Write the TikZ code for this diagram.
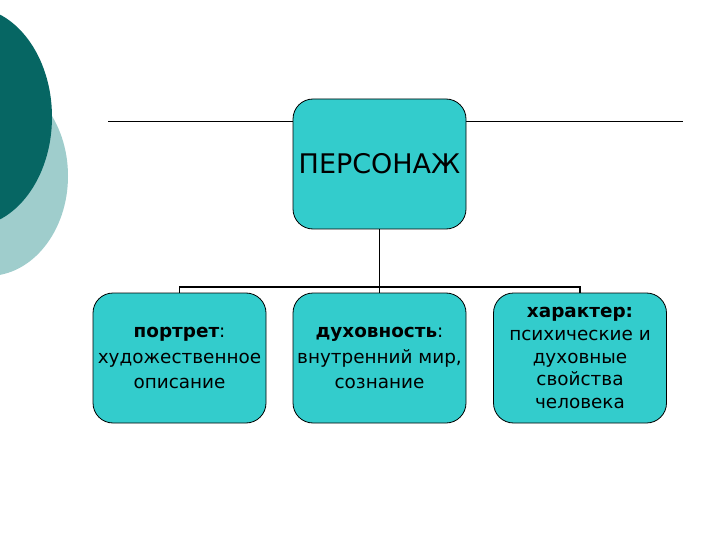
\documentclass[tikz,border=0pt]{standalone}
\usepackage{fontspec}
\setmainfont{DejaVu Sans}
\usepackage{xcolor}
\usetikzlibrary{positioning}
\definecolor{deepc}{HTML}{066663}
\definecolor{palec}{HTML}{9FCDCC}
\definecolor{boxc}{HTML}{33CCCC}
\tikzset{
  card/.style={draw=black,line width=0.8pt,rounded corners=20pt,fill=boxc,align=center,
    minimum width=173pt,minimum height=130pt,inner sep=1pt,font=\fontsize{18.4}{25.5}\selectfont},
  tree/.style={line width=1.8pt,black},
  rule/.style={line width=0.8pt,black}
}
\begin{document}
\begin{tikzpicture}[x=1pt,y=-1pt]
\useasboundingbox (0,0) rectangle (720,540);
\begin{scope}
\clip (0,0) rectangle (720,540);
\fill[palec] (-12,176) ellipse (80 and 100);
\fill[deepc] (-30,117) ellipse (82 and 110);
\end{scope}
% top rule behind the main card
\coordinate (ruleL) at (108,121);
\coordinate (ruleR) at (683,121);
\draw[rule] (ruleL) -- (ruleR);
\node[card,font=\fontsize{27}{30}\selectfont] (hero) at (379.5,164) {ПЕРСОНАЖ};
\node[card] (look) at (179.5,358) {\textbf{портрет}:\\художественное\\описание};
\node[card] (soul) at (379.5,358) {\textbf{духовность}:\\внутренний мир,\\сознание};
\node[card,font=\fontsize{18.4}{22.6}\selectfont] (trait) at (580,358)
  {\textbf{характер:}\\психические и\\духовные\\свойства\\человека};
\coordinate (fork) at (379.5,287);
\draw[tree] (hero.south) -- (fork);
\draw[tree] (fork) -| (look.north);
\draw[tree] (fork) -| (trait.north);
\draw[tree] (fork) -- (soul.north);
\end{tikzpicture}
\end{document}
